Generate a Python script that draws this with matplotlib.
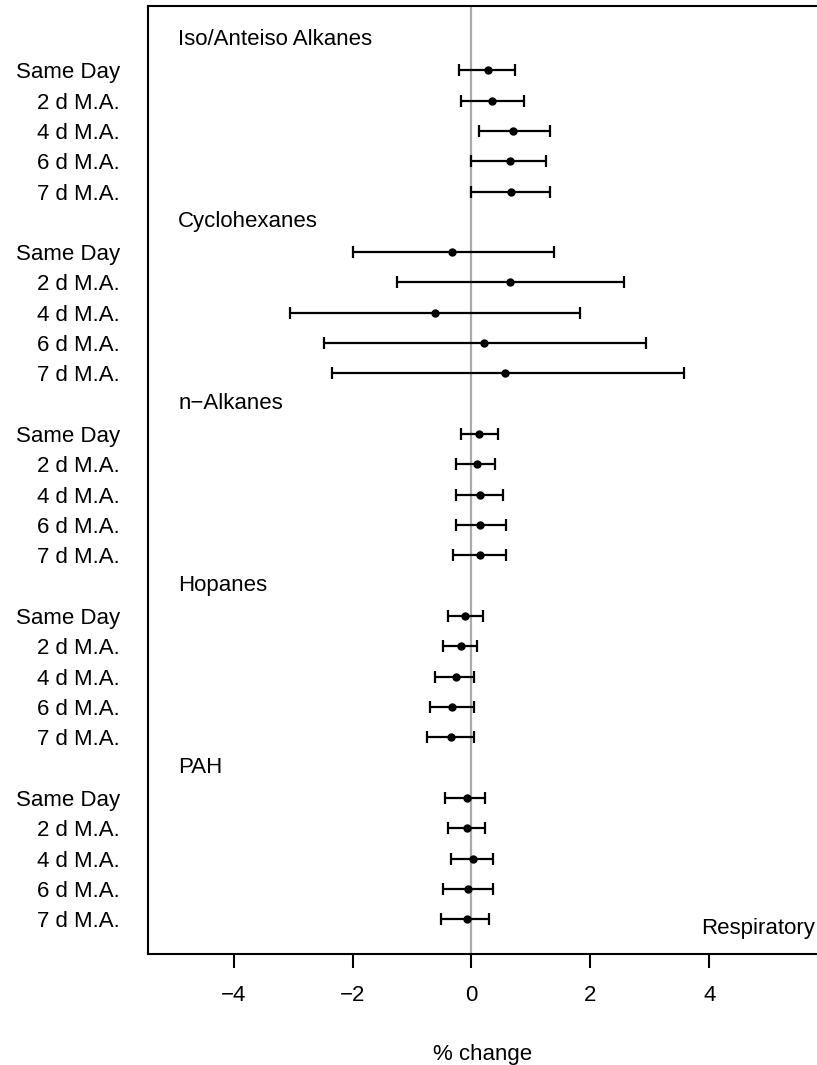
import matplotlib
matplotlib.use("Agg")
import matplotlib.pyplot as plt
import matplotlib.transforms as mtransforms
import numpy as np

plt.rcParams["font.family"] = ["Liberation Sans", "DejaVu Sans"]

groups = ["Iso/Anteiso Alkanes", "Cyclohexanes", "n\u2212Alkanes", "Hopanes", "PAH"]
lags = ["Same Day", "2 d M.A.", "4 d M.A.", "6 d M.A.", "7 d M.A."]

# point estimates (% change), one list per group, rows follow `lags`
est = {
    "Iso/Anteiso Alkanes": [0.27, 0.34, 0.70, 0.65, 0.67],
    "Cyclohexanes": [-0.32, 0.65, -0.61, 0.21, 0.56],
    "n\u2212Alkanes": [0.13, 0.09, 0.14, 0.14, 0.14],
    "Hopanes": [-0.11, -0.18, -0.26, -0.33, -0.35],
    "PAH": [-0.08, -0.07, 0.03, -0.06, -0.08],
}
lower = {
    "Iso/Anteiso Alkanes": [-0.21, -0.17, 0.13, 0.00, 0.00],
    "Cyclohexanes": [-1.99, -1.25, -3.05, -2.48, -2.35],
    "n\u2212Alkanes": [-0.18, -0.26, -0.26, -0.26, -0.31],
    "Hopanes": [-0.39, -0.48, -0.61, -0.69, -0.74],
    "PAH": [-0.44, -0.39, -0.35, -0.48, -0.52],
}
upper = {
    "Iso/Anteiso Alkanes": [0.74, 0.88, 1.32, 1.25, 1.32],
    "Cyclohexanes": [1.39, 2.57, 1.82, 2.93, 3.57],
    "n\u2212Alkanes": [0.44, 0.40, 0.53, 0.58, 0.58],
    "Hopanes": [0.19, 0.09, 0.05, 0.05, 0.05],
    "PAH": [0.23, 0.23, 0.36, 0.36, 0.30],
}
xticks = [-4, -2, 0, 2, 4]
outcome = "Respiratory"

FS = 16

fig = plt.figure(figsize=(8.17, 10.65), dpi=100)
ax = fig.add_axes([0.1811, 0.1042, 0.8189, 0.8902])

ax.axvline(0, color="#aaaaaa", linewidth=1.6, zorder=1)

ytick_pos, ytick_lab = [], []
trans = mtransforms.blended_transform_factory(ax.transAxes, ax.transData)
row = 0
for g in groups:
    # group header takes one row slot
    ax.text(0.045, row, g, transform=trans, ha="left", va="center", fontsize=FS)
    row += 1
    ys = np.arange(row, row + len(lags))
    e = np.array(est[g])
    lo = np.array(lower[g])
    hi = np.array(upper[g])
    ax.errorbar(e, ys, xerr=[e - lo, hi - e], fmt="o", color="black",
                ecolor="black", elinewidth=1.6, capsize=4.3, capthick=1.6,
                markersize=5, zorder=3)
    ytick_pos.extend(ys)
    ytick_lab.extend(lags)
    row += len(lags)

n_rows = row
ax.set_ylim(n_rows - 1 + 1.15, -1.12)
ax.set_xlim(-5.44, 5.81)

ax.set_yticks(ytick_pos)
ax.set_yticklabels(ytick_lab, fontsize=FS)
ax.tick_params(axis="y", length=0, pad=20)

ax.set_xticks(xticks)
ax.set_xticklabels([str(v).replace("-", "\u2212") for v in xticks], fontsize=FS)
ax.tick_params(axis="x", length=10, width=1.5, pad=12)

for side in ["left", "top", "bottom"]:
    ax.spines[side].set_linewidth(1.5)
ax.spines["right"].set_visible(False)

ax.text(0.997, n_rows - 1 + 0.3, outcome, transform=trans, ha="right",
        va="center", fontsize=FS)

ax.set_xlabel("% change", fontsize=FS, labelpad=28)

fig.savefig("out.png", dpi=100)
